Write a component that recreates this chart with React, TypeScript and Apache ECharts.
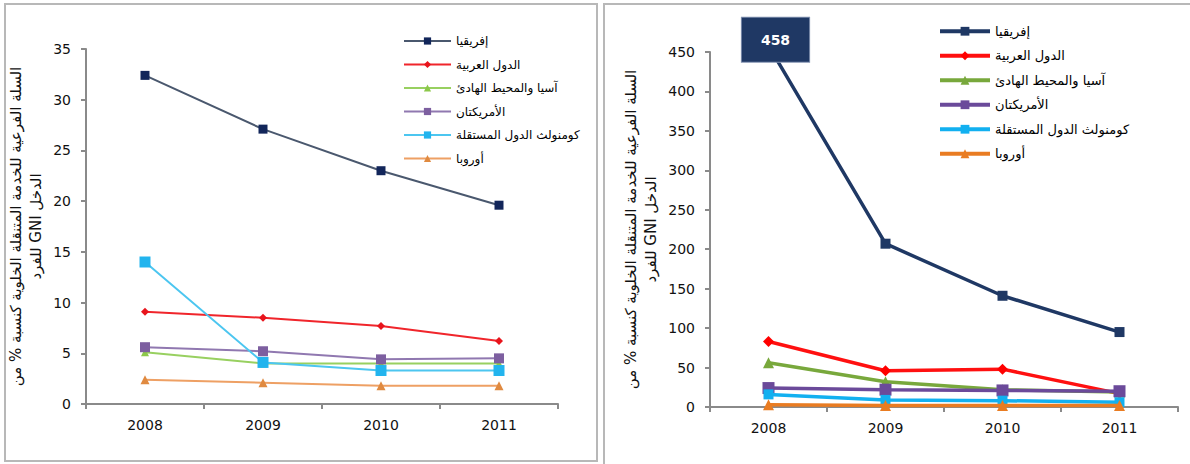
import React, { useEffect, useRef } from "react";
import * as echarts from "echarts";

const years = ["2008", "2009", "2010", "2011"];
const regions = [
  "إفريقيا",
  "الدول العربية",
  "آسيا والمحيط الهادئ",
  "الأمريكتان",
  "كومنولث الدول المستقلة",
  "أوروبا",
];

// Left chart: % of GNI per capita
const africaL = [32.4, 27.1, 23.0, 19.6];
const arabL = [9.1, 8.5, 7.7, 6.2];
const asiaL = [5.1, 4.0, 4.0, 4.0];
const americasL = [5.6, 5.2, 4.4, 4.5];
const cisL = [14.0, 4.1, 3.3, 3.3];
const europeL = [2.4, 2.1, 1.8, 1.8];

// Right chart
const africaR = [458, 207, 141, 95];
const arabR = [83, 46, 48, 17];
const asiaR = [56, 32, 22, 19];
const americasR = [24, 22, 21, 20];
const cisR = [16, 9, 8, 6];
const europeR = [3, 2, 2, 2];

const axisTitle1 = "السلة الفرعية للخدمة المتنقلة الخلوية كنسبة % من";
const axisTitle2 = "الدخل GNI للفرد";

const leftData = [africaL, arabL, asiaL, americasL, cisL, europeL];
const rightData = [africaR, arabR, asiaR, americasR, cisR, europeR];

const leftStyle = [
  { line: "#4a586e", mark: "#12265a", symbol: "rect", size: 9 },
  { line: "#f0252b", mark: "#e8141c", symbol: "diamond", size: 8 },
  { line: "#98d060", mark: "#8cc84a", symbol: "triangle", size: 8 },
  { line: "#9078b0", mark: "#7d5fa0", symbol: "rect", size: 10 },
  { line: "#4cc6f0", mark: "#22b4ee", symbol: "rect", size: 11 },
  { line: "#eea064", mark: "#e08a40", symbol: "triangle", size: 9 },
];
const rightStyle = [
  { line: "#1f3864", mark: "#1f3864", symbol: "rect", size: 10 },
  { line: "#ff1010", mark: "#ff0000", symbol: "diamond", size: 11 },
  { line: "#78a83c", mark: "#78a83c", symbol: "triangle", size: 11 },
  { line: "#6b4a9a", mark: "#6b4a9a", symbol: "rect", size: 12 },
  { line: "#12b0f0", mark: "#12b0f0", symbol: "rect", size: 10 },
  { line: "#e97c22", mark: "#e97c22", symbol: "triangle", size: 11 },
];

const axisFont = "DejaVu Sans";

export default function App() {
  const ref = useRef<HTMLDivElement>(null);

  useEffect(() => {
    if (!ref.current) return;
    const chart = echarts.init(ref.current, undefined, { renderer: "svg" });

    const axisCommon = {
      axisLine: { show: true, lineStyle: { color: "#8a8a8a", width: 2 } },
      axisTick: { show: true, length: 5, lineStyle: { color: "#8a8a8a", width: 2 } },
      splitLine: { show: false },
    };
    const labelStyle = { color: "#111", fontSize: 14, fontFamily: axisFont };

    const series: any[] = [];
    regions.forEach((name, i) => {
      const s = leftStyle[i];
      series.push({
        type: "line",
        name,
        xAxisIndex: 0,
        yAxisIndex: 0,
        data: leftData[i],
        symbol: s.symbol,
        symbolSize: s.size,
        lineStyle: { color: s.line, width: 2 },
        itemStyle: { color: s.mark },
        z: 2 + i,
      });
    });
    regions.forEach((name, i) => {
      const s = rightStyle[i];
      const data: any[] = rightData[i].map((v, j) =>
        i === 0 && j === 0
          ? {
              value: v,
              label: {
                show: true,
                position: "inside",
                offset: [7, -6],
                formatter: String(v),
                color: "#ffffff",
                fontWeight: "bold",
                fontSize: 14,
                fontFamily: axisFont,
                backgroundColor: "#1f3864",
                borderColor: "#7f8fae",
                borderWidth: 1,
                padding: [15, 19, 15, 19],
              },
            }
          : v
      );
      series.push({
        type: "line",
        name,
        xAxisIndex: 1,
        yAxisIndex: 1,
        data,
        clip: false,
        symbol: s.symbol,
        symbolSize: s.size,
        lineStyle: { color: s.line, width: 3.5 },
        itemStyle: { color: s.mark },
        z: 2 + i,
      });
    });

    const option: any = {
      animation: false,
      backgroundColor: "#ffffff",
      grid: [
        { left: 86, right: 632, top: 49, bottom: 60, containLabel: false },
        { left: 710, right: 12, top: 52, bottom: 57, containLabel: false },
      ],
      xAxis: [0, 1].map((g) => ({
        type: "category",
        gridIndex: g,
        data: years,
        boundaryGap: true,
        ...axisCommon,
        axisLabel: { ...labelStyle, margin: 14 },
      })),
      yAxis: [
        {
          type: "value",
          gridIndex: 0,
          min: 0,
          max: 35,
          interval: 5,
          ...axisCommon,
          axisLabel: { ...labelStyle, margin: 15 },
          name: axisTitle1 + "\n" + axisTitle2,
          nameLocation: "middle",
          nameRotate: 90,
          nameGap: 40,
          nameTextStyle: { fontFamily: axisFont, fontSize: 15, lineHeight: 20, color: "#111" },
        },
        {
          type: "value",
          gridIndex: 1,
          min: 0,
          max: 450,
          interval: 50,
          ...axisCommon,
          axisLabel: { ...labelStyle, margin: 15 },
          name: axisTitle1 + "\n" + axisTitle2,
          nameLocation: "middle",
          nameRotate: 90,
          nameGap: 49,
          nameTextStyle: { fontFamily: axisFont, fontSize: 15, lineHeight: 20, color: "#111" },
        },
      ],
      legend: [
        {
          orient: "vertical",
          left: 403,
          top: 34,
          padding: 0,
          itemWidth: 47,
          itemHeight: 9,
          itemGap: 9.5,
          align: "left",
          textStyle: { fontFamily: axisFont, fontSize: 12, color: "#000", lineHeight: 14 },
          data: regions.map((name, i) => ({
            name,
            itemStyle: { color: leftStyle[i].mark },
            lineStyle: { color: leftStyle[i].line, width: 2 },
          })),
        },
        {
          orient: "vertical",
          left: 938,
          top: 24,
          padding: 0,
          itemWidth: 50,
          itemHeight: 11,
          itemGap: 10,
          align: "left",
          textStyle: { fontFamily: axisFont, fontSize: 13, color: "#000", lineHeight: 14.5 },
          data: regions.map((name, i) => ({
            name,
            itemStyle: { color: rightStyle[i].mark },
            lineStyle: { color: rightStyle[i].line, width: 4 },
          })),
        },
      ],
      graphic: [
        {
          type: "rect",
          silent: true,
          shape: { x: 5, y: 4, width: 592, height: 457 },
          style: { fill: "none", stroke: "#b8b8b8", lineWidth: 2 },
        },
        {
          type: "rect",
          silent: true,
          shape: { x: 604, y: 4, width: 620, height: 480 },
          style: { fill: "none", stroke: "#b8b8b8", lineWidth: 2 },
        },
      ],
      series,
    };

    chart.setOption(option);

    const fixBidi = () => {
      if (!ref.current) return;
      ref.current.querySelectorAll("text").forEach((t) => {
        if (t.textContent === axisTitle2 || t.textContent === axisTitle1) {
          t.setAttribute("direction", "rtl");
          (t as SVGTextElement).style.direction = "rtl";
          (t as SVGTextElement).style.unicodeBidi = "embed";
        }
      });
    };
    fixBidi();
    chart.on("finished", fixBidi);

    return () => {
      chart.dispose();
    };
  }, []);

  return (
    <div
      ref={ref}
      style={{ position: "fixed", left: 0, top: 0, width: 1190, height: 464 }}
    />
  );
}
